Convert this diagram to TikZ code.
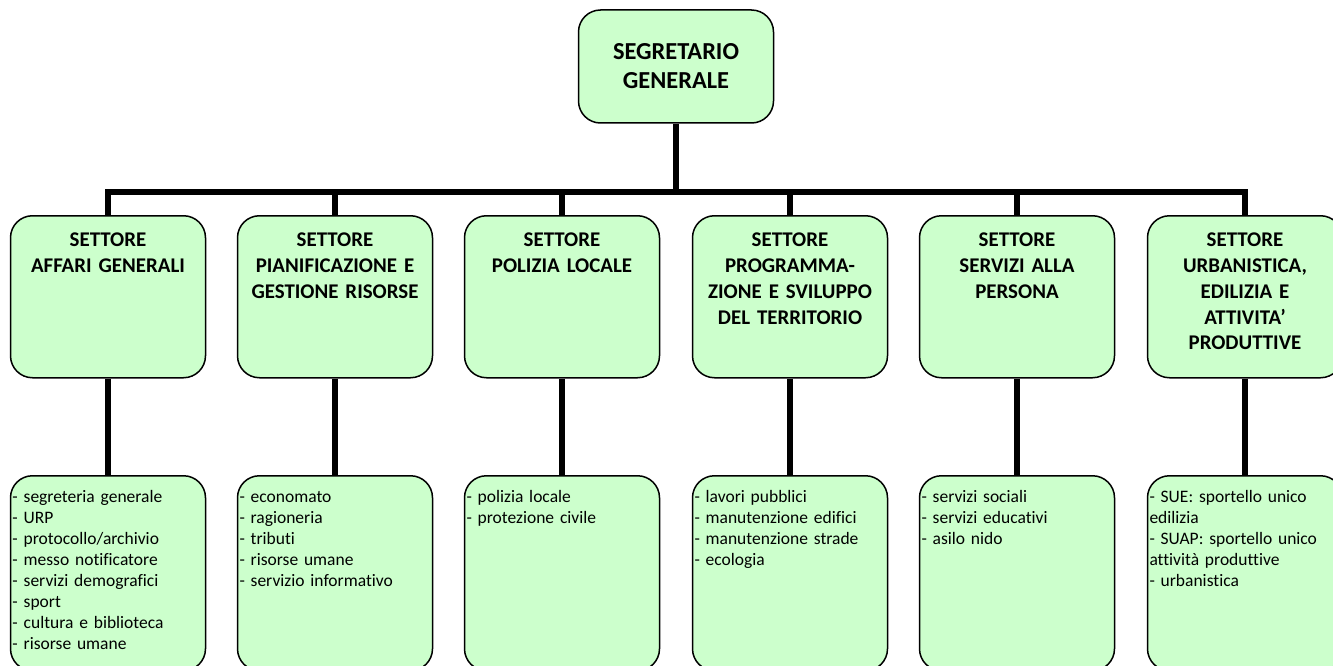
\documentclass[tikz,border=0pt]{standalone}
\usepackage{fontspec}
\setmainfont[Ligatures=NoCommon]{Carlito}
\usepackage{tikz}
\definecolor{boxgreen}{RGB}{204,255,204}

\tikzset{
  verde/.style={draw, line width=1.5pt, fill=boxgreen, rounded corners=22pt},
  capo/.style={verde, minimum width=195pt, minimum height=113pt, inner sep=0pt, align=center,
    font=\bfseries\fontsize{24.4}{29}\selectfont},
  settore/.style={verde, anchor=north, inner sep=0pt, text width=195pt, align=center,
    text height=31pt, text depth=131pt, font=\bfseries\fontsize{20.9}{25.8}\selectfont},
  uffici/.style={verde, anchor=north, inner xsep=2pt, inner ysep=0pt, text width=191pt, align=left,
    text height=27pt, text depth=168pt, font=\fontsize{17.5}{21}\selectfont},
  link/.style={line width=6pt}
}

\begin{document}
\begin{tikzpicture}[x=1pt, y=-1pt]
    \useasboundingbox (0,0) rectangle (1333,666);
    \node[capo] (sg) at (676,66.5) {SEGRETARIO\\GENERALE};
    \coordinate (bus) at (676,192);
    \foreach \i/\x/\t in {
      1/108/{SETTORE\\AFFARI GENERALI},
      2/335/{SETTORE\\PIANIFICAZIONE E\\GESTIONE RISORSE},
      3/562/{SETTORE\\POLIZIA LOCALE},
      4/790/{SETTORE\\PROGRAMMA-\\ZIONE E SVILUPPO\\DEL TERRITORIO},
      5/1017/{SETTORE\\SERVIZI ALLA\\PERSONA},
      6/1245/{SETTORE\\URBANISTICA,\\EDILIZIA E\\ATTIVITA’\\PRODUTTIVE}}{
      \node[settore] (s\i) at (\x,215) {\t};
    }
    \foreach \i/\t in {
      1/{- segreteria generale\\- URP\\- protocollo/archivio\\- messo notificatore\\- servizi demografici\\- sport\\- cultura e biblioteca\\- risorse umane},
      2/{- economato\\- ragioneria\\- tributi\\- risorse umane\\- servizio informativo},
      3/{- polizia locale\\- protezione civile},
      4/{- lavori pubblici\\- manutenzione edifici\\- manutenzione strade\\- ecologia},
      5/{- servizi sociali\\- servizi educativi\\- asilo nido},
      6/{- SUE: sportello unico\\edilizia\\- SUAP: sportello unico\\attività produttive\\- urbanistica}}{
      \node[uffici] (u\i) at (s\i.south |- 0,475) {\t};
    }
    \draw[link] (sg.south) -- (bus);
    \draw[link] (s1.north) -- (s1.north |- bus) -- (s6.north |- bus) -- (s6.north);
    \foreach \i in {2,...,5}{
      \draw[link] (s\i.north) -- (s\i.north |- bus);
    }
    \foreach \i in {1,...,6}{
      \draw[link] (s\i.south) -- (u\i.north);
    }
\end{tikzpicture}
\end{document}
